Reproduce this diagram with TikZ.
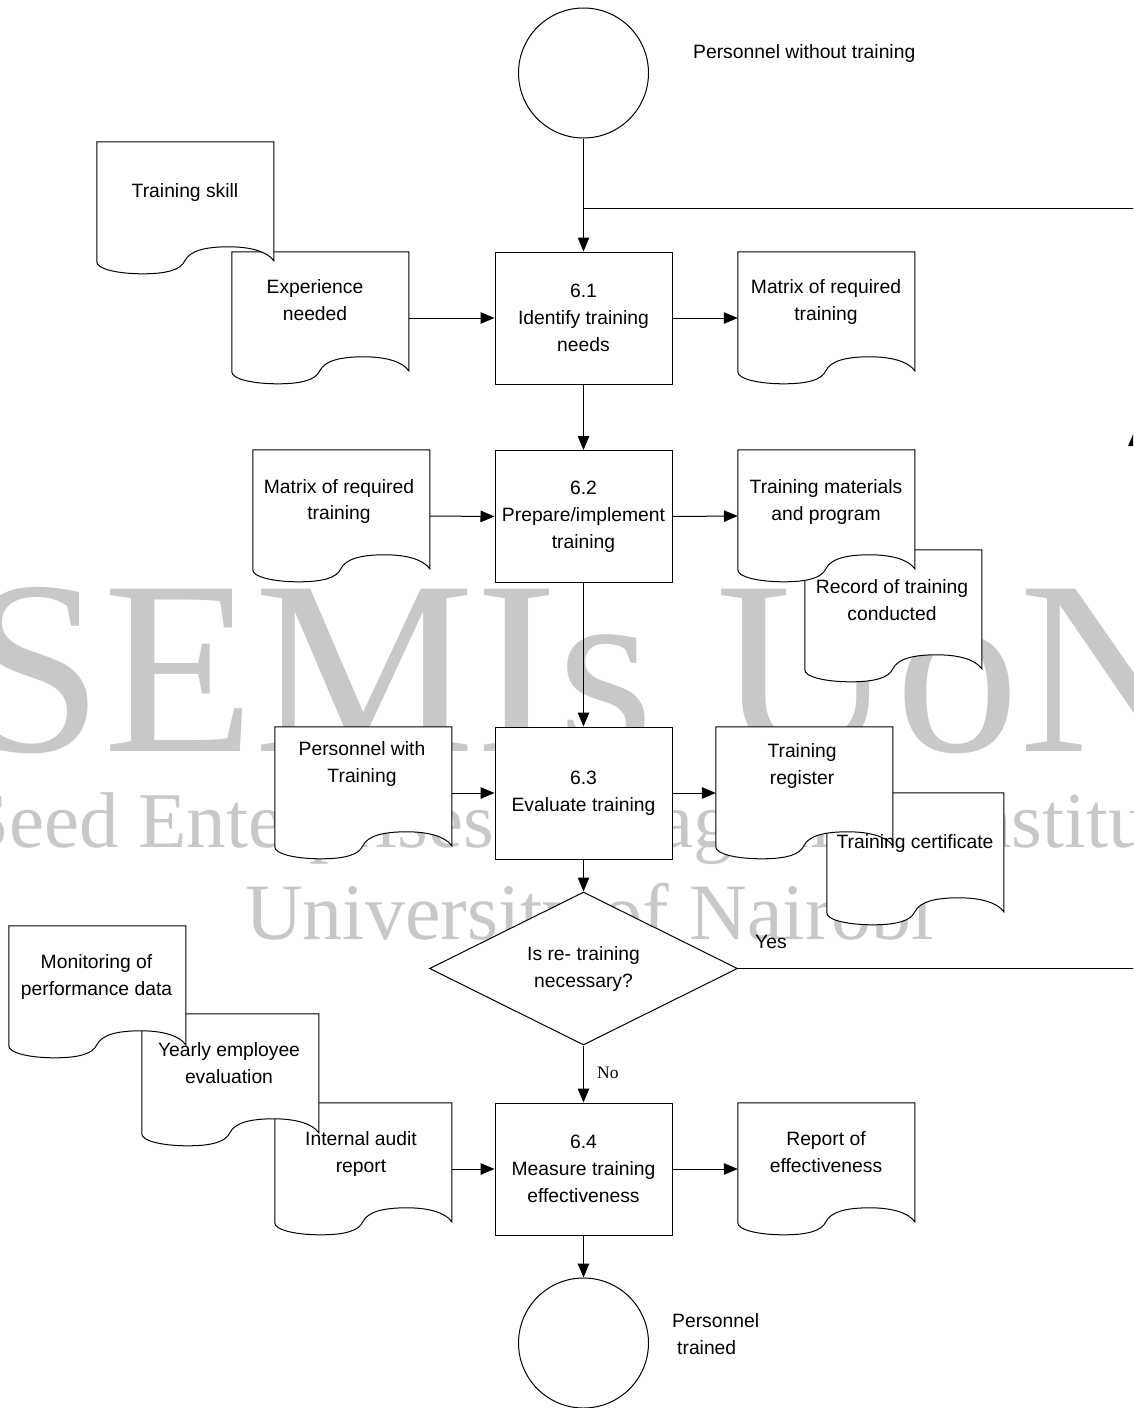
\documentclass[tikz,border=0pt]{standalone}
\usepackage{fontspec}
\setmainfont{Liberation Sans}
\newfontfamily\wmserif{Liberation Serif}
\usetikzlibrary{arrows.meta,shapes.geometric}
\definecolor{wmgray}{RGB}{200,200,200}
\newcommand\lbl{\fontsize{19.3}{26.8}\selectfont}
\newcommand\nofont{\wmserif\fontsize{17.5}{20}\selectfont}
\newcommand\docshape[1]{%
  \draw[docline, shift={(#1.north west)}] (0,0) -- (177,0) -- (177,119)
    .. controls (170,109) and (152,105) .. (132,105)
    .. controls (108,105) and (93,109) .. (88,119)
    .. controls (84,128) and (70,132) .. (46,132)
    .. controls (20,132) and (0,127) .. (0,120) -- cycle;}
\begin{document}
\begin{tikzpicture}[x=1pt,y=-1pt,
  proc/.style={rectangle, draw, line width=1pt, fill=white, minimum width=177pt, minimum height=132pt, inner sep=0pt, align=center, font=\lbl},
  docbox/.style={rectangle, minimum width=177pt, minimum height=132pt, inner sep=0pt},
  docline/.style={draw=black, line width=1pt, fill=white},
  doctext/.style={anchor=north, align=center, inner sep=0pt, font=\lbl},
  term/.style={circle, draw, line width=1pt, fill=white, minimum size=130pt, inner sep=0pt},
  decision/.style={diamond, aspect=2, draw, line width=1pt, fill=white, minimum width=308pt, minimum height=153pt, inner sep=0pt, align=center, font=\lbl},
  flow/.style={draw, line width=1pt, -{Triangle[length=14pt,width=11.5pt]}},
  plainline/.style={draw, line width=1pt},
  lab/.style={anchor=base west, inner sep=0pt, font=\lbl},
  wm/.style={anchor=base west, inner sep=0pt, text=wmgray}]

\useasboundingbox (0,0) rectangle (1133,1408);
\clip (0,0) rectangle (1133,1408);
\fill[white] (0,0) rectangle (1133,1408);

% watermark
\node[wm, font={\wmserif\fontsize{248}{250}\selectfont}] (wm1) at (-35,751) {SEMIs UoN};
\node[wm, font={\wmserif\fontsize{79}{80}\selectfont}] (wm2) at (-35,847) {Seed Enterprises Management Institute};
\node[wm, font={\wmserif\fontsize{80}{80}\selectfont}] (wm3) at (245,939) {University of Nairobi};

% document anchors
\node[docbox] (ts) at (185.5,208) {};
\node[docbox] (ed) at (320.5,318) {};
\node[docbox] (m1) at (826.5,318) {};
\node[docbox] (m2) at (341.5,516) {};
\node[docbox] (tm) at (826.5,516) {};
\node[docbox] (rc) at (893.5,616) {};
\node[docbox] (pw) at (363.5,793) {};
\node[docbox] (tr) at (804.5,793) {};
\node[docbox] (tc) at (915.5,859) {};
\node[docbox] (mo) at (97.5,992) {};
\node[docbox] (ye) at (230.5,1080) {};
\node[docbox] (ia) at (363.5,1169) {};
\node[docbox] (rp) at (826.5,1169) {};

% document shapes (back ones first)
\docshape{ed}
\docshape{ts}
\docshape{m1}
\docshape{m2}
\docshape{rc}
\docshape{tm}
\docshape{pw}
\docshape{tc}
\docshape{tr}
\docshape{ia}
\docshape{ye}
\docshape{mo}
\docshape{rp}

% processes
\node[term] (st) at (583.5,73) {};
\node[proc] (p61) at (583.5,318) {6.1\\Identify training\\needs};
\node[proc] (p62) at (583.5,516.5) {6.2\\Prepare/implement\\training};
\node[proc] (p63) at (583.5,793) {6.3\\Evaluate training};
\node[decision] (dc) at (583.5,968.5) {\raisebox{-4pt}{\begin{tabular}{@{}c@{}}Is re- training\\[0.6pt]necessary?\end{tabular}}};
\node[proc] (p64) at (583.5,1169) {6.4\\Measure training\\effectiveness};
\node[term] (en) at (583.5,1343) {};

\coordinate (jn) at (583.5,208);
\coordinate (cB) at (1134,208);
\coordinate (cA) at (1134,432);
\coordinate (cC) at (1134,968.5);

% connectors
\draw[flow] (st.south) -- (p61.north);
\draw[flow] (ed.east) -- (p61.west);
\draw[flow] (p61.east) -- (m1.west);
\draw[flow] (p61.south) -- (p62.north);
\draw[flow] (m2.east) -- (p62.west);
\draw[flow] (p62.east) -- (tm.west);
\draw[flow] (p62.south) -- (p63.north);
\draw[flow] (pw.east) -- (p63.west);
\draw[flow] (p63.east) -- (tr.west);
\draw[flow] (p63.south) -- (dc.north);
\draw[flow] (dc.south) -- (p64.north);
\draw[flow] (ia.east) -- (p64.west);
\draw[flow] (p64.east) -- (rp.west);
\draw[flow] (p64.south) -- (en.north);
\draw[flow] (dc.east) -- (cC) -- (cA);
\draw[plainline] (cA) -- (cB) -- (jn);

% document texts
\node[doctext] (ts-t) at (185,183.5) {Training skill};
\node[doctext] (ed-t) at (315,279.5) {Experience\\needed};
\node[doctext] (m1-t) at (826,279.5) {Matrix of required\\training};
\node[doctext] (m2-t) at (339,479) {Matrix of required\\training};
\node[doctext] (tm-t) at (826,479.5) {Training materials\\and program};
\node[doctext] (rc-t) at (892,579.5) {Record of training\\conducted};
\node[doctext] (pw-t) at (362,741.5) {Personnel with\\Training};
\node[doctext] (tr-t) at (802,743.5) {Training\\register};
\node[doctext] (tc-t) at (915,834.5) {Training certificate};
\node[doctext] (mo-t) at (96.5,954.5) {Monitoring of\\performance data};
\node[doctext] (ye-t) at (229,1042.5) {Yearly employee\\evaluation};
\node[doctext] (ia-t) at (361,1131.5) {Internal audit\\report};
\node[doctext] (rp-t) at (826,1131.5) {Report of\\effectiveness};

% other labels
\node[lab] (pwo) at (693,58) {Personnel without training};
\node[anchor=north west, align=left, inner sep=0pt, font=\lbl] (ptr) at (672,1313.5) {Personnel\\\hspace*{5pt}trained};
\node[lab] (yes) at (755,948) {Yes};
\node[anchor=base west, inner sep=0pt, font=\nofont] (no) at (597,1078) {No};
\end{tikzpicture}
\end{document}
